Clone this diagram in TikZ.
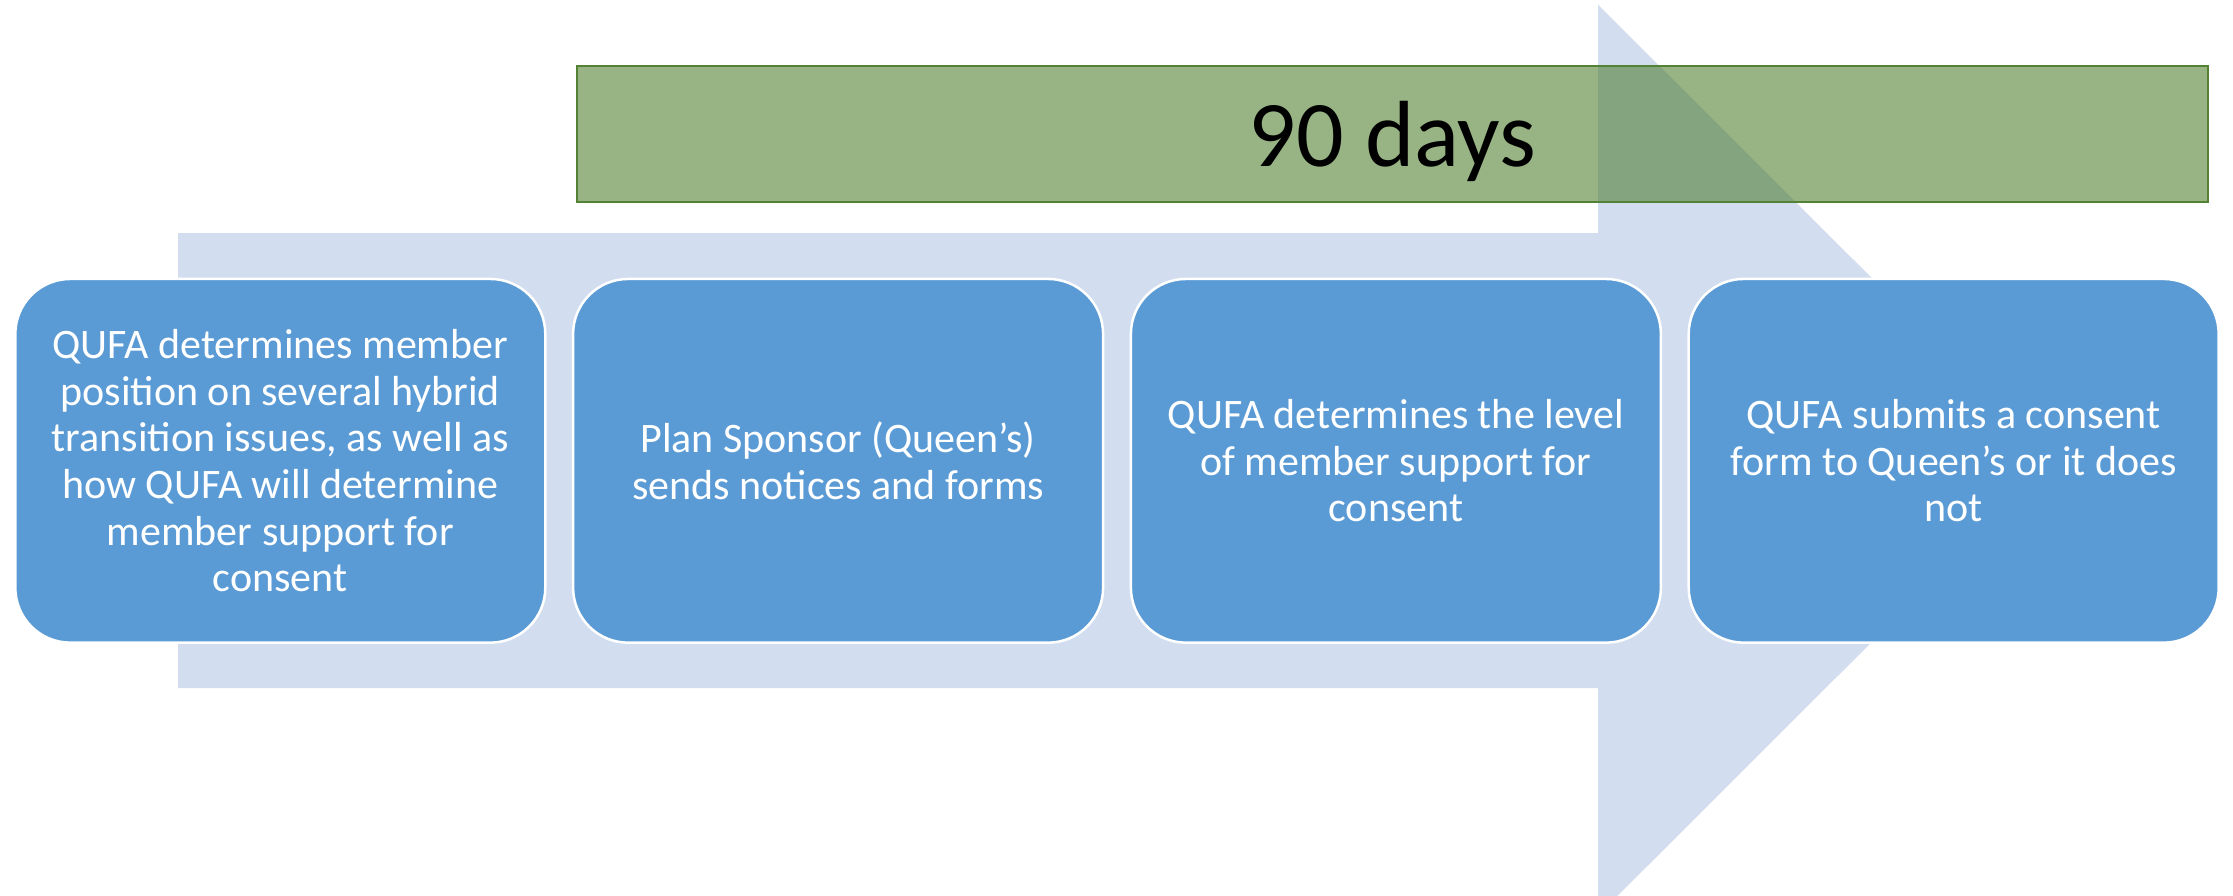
\documentclass[tikz,border=0pt]{standalone}
\usepackage{fontspec}
\setmainfont{Carlito}
\definecolor{arrowfill}{HTML}{D2DEEF}
\definecolor{stepfill}{HTML}{5B9BD5}
\definecolor{barfill}{HTML}{98B484}
\definecolor{baroverlap}{HTML}{84A47F}
\definecolor{barline}{HTML}{548235}
\begin{document}
\begin{tikzpicture}[x=0.5pt,y=-0.5pt,
  stepbox/.style={draw=white, line width=1.25pt, fill=stepfill,
    rounded corners=27.5pt, minimum width=265pt, minimum height=181.85pt,
    inner sep=0pt, align=center, text=white,
    font=\fontsize{21}{23.35}\selectfont},
  bigarrow/.style={fill=arrowfill}]
\useasboundingbox (0,0) rectangle (2233,895);
\clip (0,0) rectangle (2233,895);
% timeline arrow in the background
\def\arrowpath{(178,233) -- (1598,233) -- (1598,4.6) -- (2054,460) -- (1598,915.4) -- (1598,688) -- (178,688) -- cycle}
\path[bigarrow] \arrowpath;
% duration bar, darker where it lies over the arrow
\fill[barfill] (577,66) rectangle (2208,202);
\begin{scope}
  \clip \arrowpath;
  \fill[baroverlap] (577,66) rectangle (2208,202);
\end{scope}
\draw[barline, line width=1.35pt] (577,66) rectangle (2208,202);
\node[anchor=base, inner sep=0pt, font=\fontsize{47}{50}\selectfont] (days) at (1392.5,166) {90 days};
% the four steps
\node[stepbox] (s1) at (280.3,460.8) {QUFA determines member\\position on several hybrid\\transition issues, as well as\\how QUFA will determine\\member support for\\consent};
\node[stepbox] (s2) at (838.1,460.8) {Plan Sponsor (Queen’s)\\sends notices and forms};
\node[stepbox] (s3) at (1395.9,460.8) {QUFA determines the level\\of member support for\\consent};
\node[stepbox] (s4) at (1953.7,460.8) {QUFA submits a consent\\form to Queen’s or it does\\not};
\end{tikzpicture}
\end{document}
